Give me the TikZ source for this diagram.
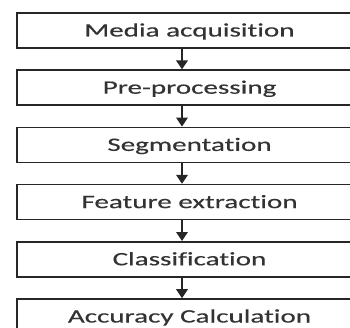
\documentclass[tikz,border=0pt]{standalone}
\usepackage{fontspec}
\usetikzlibrary{positioning, arrows.meta}
\newfontfamily\stagefont{Carlito}[FakeStretch=1.53, FakeBold=0.4, Ligatures={NoCommon}]
\definecolor{edgegray}{HTML}{262626}
\definecolor{textgray}{HTML}{333333}
\tikzset{->,>={Triangle[length=9pt,width=11.5pt]},
stage/.style={draw=edgegray, line width=1.7pt, minimum width=345pt, minimum height=35pt,
  inner sep=0pt, outer sep=0pt, text height=12pt, text depth=0pt, text=textgray,
  font=\stagefont\fontsize{19}{19}\selectfont},
flow/.style={draw=edgegray, line width=1.8pt, shorten >=0.8pt, shorten <=0.8pt},
}

\begin{document}
\begin{tikzpicture}[x=1pt, y=1pt]
    \useasboundingbox (0,0) rectangle (350,327);
    \node[stage] (s1) at (189.5,296.5) {Media acquisition};
    \node[stage, below=22.2pt of s1] (s2) {Pre-processing};
    \node[stage, below=22.2pt of s2] (s3) {Segmentation};
    \node[stage, below=22.2pt of s3] (s4) {Feature extraction};
    \node[stage, below=22.2pt of s4] (s5) {Classification};
    \node[stage, below=22.2pt of s5] (s6) {Accuracy Calculation};

    \foreach \a/\b in {s1/s2, s2/s3, s3/s4, s4/s5, s5/s6}
        \draw[flow] ([xshift=-7.5pt]\a.south) -- ([xshift=-7.5pt]\b.north);
\end{tikzpicture}
\end{document}
